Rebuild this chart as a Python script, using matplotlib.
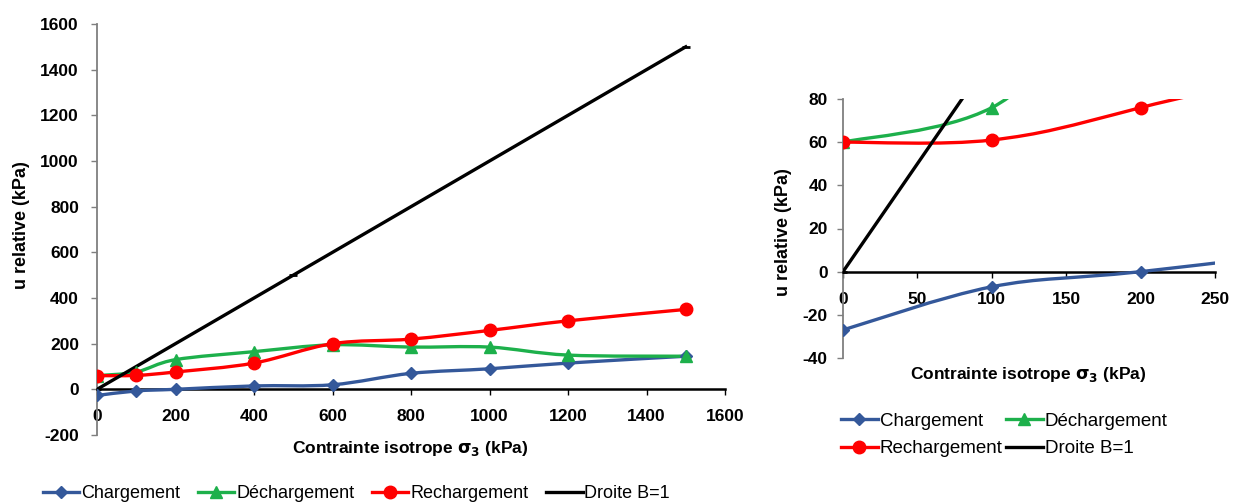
import matplotlib
matplotlib.use("Agg")
import matplotlib.pyplot as plt
import numpy as np
from matplotlib.path import Path
from matplotlib.patches import PathPatch
from matplotlib.lines import Line2D

plt.rcParams['font.family'] = ['Liberation Sans', 'DejaVu Sans']
plt.rcParams['axes.unicode_minus'] = False

# ---- data ----
x_charg = [0, 100, 200, 400, 600, 800, 1000, 1200, 1500]
y_charg = [-27, -7, 0, 15, 20, 70, 90, 115, 145]
x_decharg = [1500, 1200, 1000, 800, 600, 400, 200, 100, 0]
y_decharg = [145, 150, 185, 185, 195, 165, 130, 76, 60]
x_recharg = [0, 100, 200, 400, 600, 800, 1000, 1200, 1500]
y_recharg = [60, 61, 76, 115, 200, 220, 258, 300, 350]
x_droite = [0, 500, 1500]
y_droite = [0, 500, 1500]

labels = ["Chargement", "Déchargement", "Rechargement", "Droite B=1"]
c_blue = "#34589A"
c_green = "#1DB04B"
c_red = "#FF0000"
c_black = "#000000"

TICK_FS = 12.5
LABEL_FS = 12.5
YLABEL_FS = 13
LEG_FS = 13.5


def smooth_path(x, y):
    pts = np.column_stack([x, y]).astype(float)
    n = len(pts)
    verts = [pts[0]]
    codes = [Path.MOVETO]
    for i in range(n - 1):
        p0 = pts[i - 1] if i > 0 else pts[i]
        p1 = pts[i]
        p2 = pts[i + 1]
        p3 = pts[i + 2] if i + 2 < n else pts[i + 1]
        c1 = p1 + (p2 - p0) / 6.0
        c2 = p2 - (p3 - p1) / 6.0
        verts += [c1, c2, p2]
        codes += [Path.CURVE4] * 3
    return Path(verts, codes)


def draw(ax):
    series = [
        (x_charg, y_charg, c_blue, 'D', 6.5),
        (x_decharg, y_decharg, c_green, '^', 8.5),
        (x_recharg, y_recharg, c_red, 'o', 9),
    ]
    for x, y, c, m, ms in series:
        patch = PathPatch(smooth_path(x, y), facecolor='none', edgecolor=c,
                          lw=2.4, transform=ax.transData, zorder=3)
        ax.add_patch(patch)
        ax.plot(x, y, linestyle='none', marker=m, color=c,
                markersize=ms, zorder=4)
    ax.plot(x_droite, y_droite, color=c_black, lw=2.4,
            marker='_', markersize=6, mew=2, zorder=3)


def style(ax, xpad, ypad):
    for s in ['top', 'right']:
        ax.spines[s].set_visible(False)
    ax.spines['bottom'].set_position(('data', 0))
    ax.spines['left'].set_color('#7F7F7F')
    ax.spines['bottom'].set_color('#000000')
    ax.spines['left'].set_linewidth(1.3)
    ax.spines['bottom'].set_linewidth(1.8)
    ax.tick_params(axis='both', direction='out', length=4, width=1,
                   labelsize=TICK_FS, colors='#000000')
    ax.tick_params(axis='y', colors='#7F7F7F', labelcolor='#000000', pad=ypad)
    ax.tick_params(axis='x', pad=xpad)
    for t in ax.get_xticklabels() + ax.get_yticklabels():
        t.set_fontweight('bold')


def handles():
    return [
        Line2D([], [], color=c_blue, marker='D', markersize=6.5, lw=2.4),
        Line2D([], [], color=c_green, marker='^', markersize=8.5, lw=2.4),
        Line2D([], [], color=c_red, marker='o', markersize=9, lw=2.4),
        Line2D([], [], color=c_black, marker='_', markersize=6, mew=2, lw=2.4),
    ]


fig = plt.figure(figsize=(12.41, 5.04), dpi=100)

# main chart
ax1 = fig.add_axes([97 / 1241, 1 - 435 / 504, (725 - 97) / 1241, (435 - 24) / 504])
draw(ax1)
ax1.set_xlim(0, 1600)
ax1.set_ylim(-200, 1600)
ax1.set_xticks(range(0, 1601, 200))
ax1.set_yticks(range(-200, 1601, 200))
style(ax1, xpad=10, ypad=9)

fig.text(22 / 1241, 1 - 225 / 504, "u relative (kPa)", rotation=90,
         ha='center', va='center', fontsize=YLABEL_FS, fontweight='bold')
fig.text(410 / 1241, 1 - 448 / 504, r"Contrainte isotrope $\mathbf{\sigma_3}$ (kPa)",
         ha='center', va='center', fontsize=LABEL_FS, fontweight='bold')

h = handles()
fig.legend(h, labels, loc='center left', bbox_to_anchor=(36 / 1241, 1 - 494 / 504),
           ncol=4, frameon=False, fontsize=13, handlelength=2.0,
           handletextpad=0.1, columnspacing=1.0, borderaxespad=0)

# inset chart
ax2 = fig.add_axes([843 / 1241, 1 - 358 / 504, (1215 - 843) / 1241, (358 - 99) / 504])
draw(ax2)
ax2.set_xlim(0, 250)
ax2.set_ylim(-40, 80)
ax2.set_xticks(range(0, 251, 50))
ax2.set_yticks(range(-40, 81, 20))
style(ax2, xpad=11, ypad=7)

fig.text(783 / 1241, 1 - 232 / 504, "u relative (kPa)", rotation=90,
         ha='center', va='center', fontsize=YLABEL_FS, fontweight='bold')
fig.text(1028 / 1241, 1 - 374 / 504, r"Contrainte isotrope $\mathbf{\sigma_3}$ (kPa)",
         ha='center', va='center', fontsize=LABEL_FS, fontweight='bold')

h2 = handles()
order = [0, 2, 1, 3]
fig.legend([h2[i] for i in order], [labels[i] for i in order], loc='center left',
           bbox_to_anchor=(833 / 1241, 1 - 435 / 504), ncol=2, frameon=False,
           fontsize=LEG_FS, handlelength=2.0, handletextpad=0.1, columnspacing=0.15,
           labelspacing=0.55, borderaxespad=0)

fig.savefig("out.png", dpi=100)
